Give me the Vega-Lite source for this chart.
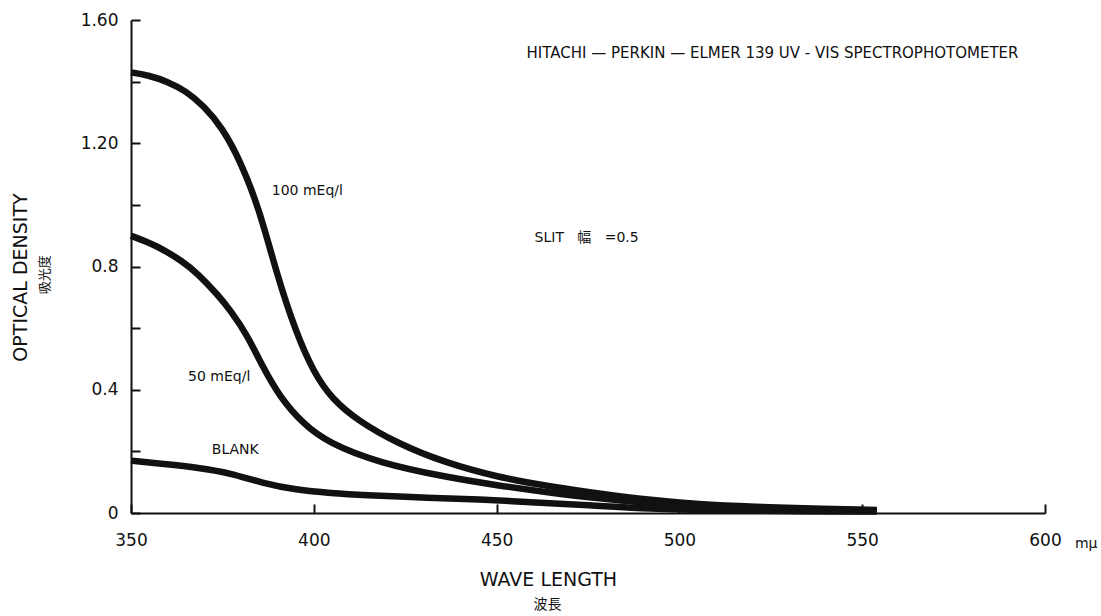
{
  "$schema": "https://vega.github.io/schema/vega-lite/v6.json",
  "width": 914,
  "height": 493,
  "autosize": {"type": "none"},
  "padding": {"left": 131, "top": 20, "right": 56, "bottom": 103},
  "background": "white",
  "config": {
    "view": {"stroke": null},
    "font": "DejaVu Sans",
    "axis": {
      "grid": false,
      "domainColor": "#111",
      "domainWidth": 2,
      "tickColor": "#111",
      "tickWidth": 2,
      "tickSize": -9,
      "labelFlush": false,
      "labelOverlap": false,
      "labelFont": "DejaVu Sans",
      "labelFontSize": 17,
      "labelColor": "#111",
      "titleFont": "DejaVu Sans",
      "titleFontSize": 19,
      "titleFontWeight": "normal",
      "titleColor": "#111"
    }
  },
  "layer": [
    {
      "data": {
        "values": [
          {"series": "100 mEq/l", "wavelength": 350, "od": 1.43},
          {"series": "100 mEq/l", "wavelength": 355, "od": 1.42},
          {"series": "100 mEq/l", "wavelength": 360, "od": 1.4},
          {"series": "100 mEq/l", "wavelength": 365, "od": 1.37},
          {"series": "100 mEq/l", "wavelength": 370, "od": 1.32},
          {"series": "100 mEq/l", "wavelength": 375, "od": 1.25},
          {"series": "100 mEq/l", "wavelength": 380, "od": 1.14},
          {"series": "100 mEq/l", "wavelength": 385, "od": 0.99},
          {"series": "100 mEq/l", "wavelength": 390, "od": 0.77},
          {"series": "100 mEq/l", "wavelength": 395, "od": 0.59},
          {"series": "100 mEq/l", "wavelength": 400, "od": 0.455},
          {"series": "100 mEq/l", "wavelength": 405, "od": 0.37},
          {"series": "100 mEq/l", "wavelength": 412, "od": 0.3},
          {"series": "100 mEq/l", "wavelength": 423, "od": 0.225},
          {"series": "100 mEq/l", "wavelength": 436, "od": 0.163},
          {"series": "100 mEq/l", "wavelength": 450, "od": 0.117},
          {"series": "100 mEq/l", "wavelength": 465, "od": 0.085},
          {"series": "100 mEq/l", "wavelength": 480, "od": 0.06},
          {"series": "100 mEq/l", "wavelength": 492, "od": 0.042},
          {"series": "100 mEq/l", "wavelength": 505, "od": 0.028},
          {"series": "100 mEq/l", "wavelength": 520, "od": 0.02},
          {"series": "100 mEq/l", "wavelength": 540, "od": 0.013},
          {"series": "100 mEq/l", "wavelength": 554, "od": 0.01},
          {"series": "50 mEq/l", "wavelength": 350, "od": 0.9},
          {"series": "50 mEq/l", "wavelength": 355, "od": 0.877},
          {"series": "50 mEq/l", "wavelength": 359, "od": 0.854},
          {"series": "50 mEq/l", "wavelength": 364, "od": 0.817},
          {"series": "50 mEq/l", "wavelength": 368, "od": 0.78},
          {"series": "50 mEq/l", "wavelength": 374, "od": 0.705},
          {"series": "50 mEq/l", "wavelength": 377, "od": 0.66},
          {"series": "50 mEq/l", "wavelength": 381.7, "od": 0.58},
          {"series": "50 mEq/l", "wavelength": 386, "od": 0.475},
          {"series": "50 mEq/l", "wavelength": 390.7, "od": 0.377},
          {"series": "50 mEq/l", "wavelength": 397, "od": 0.29},
          {"series": "50 mEq/l", "wavelength": 404, "od": 0.227},
          {"series": "50 mEq/l", "wavelength": 418, "od": 0.162},
          {"series": "50 mEq/l", "wavelength": 436, "od": 0.117},
          {"series": "50 mEq/l", "wavelength": 450, "od": 0.09},
          {"series": "50 mEq/l", "wavelength": 465, "od": 0.065},
          {"series": "50 mEq/l", "wavelength": 480, "od": 0.045},
          {"series": "50 mEq/l", "wavelength": 492, "od": 0.03},
          {"series": "50 mEq/l", "wavelength": 510, "od": 0.02},
          {"series": "50 mEq/l", "wavelength": 530, "od": 0.013},
          {"series": "50 mEq/l", "wavelength": 554, "od": 0.008},
          {"series": "BLANK", "wavelength": 350, "od": 0.17},
          {"series": "BLANK", "wavelength": 360, "od": 0.158},
          {"series": "BLANK", "wavelength": 369, "od": 0.146},
          {"series": "BLANK", "wavelength": 377, "od": 0.13},
          {"series": "BLANK", "wavelength": 386, "od": 0.097},
          {"series": "BLANK", "wavelength": 395, "od": 0.075},
          {"series": "BLANK", "wavelength": 405, "od": 0.064},
          {"series": "BLANK", "wavelength": 413, "od": 0.058},
          {"series": "BLANK", "wavelength": 432, "od": 0.049},
          {"series": "BLANK", "wavelength": 445, "od": 0.045},
          {"series": "BLANK", "wavelength": 459, "od": 0.035},
          {"series": "BLANK", "wavelength": 475, "od": 0.026},
          {"series": "BLANK", "wavelength": 492, "od": 0.013},
          {"series": "BLANK", "wavelength": 510, "od": 0.008},
          {"series": "BLANK", "wavelength": 530, "od": 0.006},
          {"series": "BLANK", "wavelength": 554, "od": 0.005}
        ]
      },
      "mark": {"type": "line", "interpolate": "basis", "strokeWidth": 6.5, "color": "#111", "strokeCap": "butt", "strokeJoin": "round"},
      "encoding": {
        "x": {
          "field": "wavelength", "type": "quantitative",
          "scale": {"domain": [350, 600], "nice": false, "zero": false},
          "axis": {
            "values": [350, 400, 450, 500, 550, 600],
            "labelPadding": 28,
            "title": "WAVE LENGTH",
            "titleX": 417,
            "titleY": 66,
            "titleBaseline": "middle"
          }
        },
        "y": {
          "field": "od", "type": "quantitative",
          "scale": {"domain": [0, 1.6], "nice": false},
          "axis": {
            "values": [0, 0.2, 0.4, 0.6, 0.8, 1.0, 1.2, 1.4, 1.6],
            "labelExpr": "datum.value == 0 ? '0' : datum.value == 0.4 ? '0.4' : datum.value == 0.8 ? '0.8' : datum.value == 1.2 ? '1.20' : datum.value == 1.6 ? '1.60' : ''",
            "labelPadding": 22,
            "title": "OPTICAL DENSITY",
            "titleX": -111,
            "titleY": 257,
            "titleBaseline": "middle"
          }
        },
        "detail": {"field": "series"}
      }
    },
    {
      "data": {
        "values": [
          {"wavelength": 388.5, "od": 1.045, "text": "100 mEq/l"},
          {"wavelength": 365.6, "od": 0.44, "text": "50 mEq/l"},
          {"wavelength": 372.1, "od": 0.205, "text": "BLANK"},
          {"wavelength": 460.4, "od": 0.893, "text": "SLIT\u00a0\u00a0\u00a0幅\u00a0\u00a0\u00a0=0.5"}
        ]
      },
      "mark": {"type": "text", "align": "left", "baseline": "middle", "color": "#111", "fontSize": 14, "font": "'DejaVu Sans', 'Noto Sans CJK JP'"},
      "encoding": {
        "x": {"field": "wavelength", "type": "quantitative"},
        "y": {"field": "od", "type": "quantitative"},
        "text": {"field": "text"}
      }
    },
    {
      "data": {
        "values": [
          {"wavelength": 458.2, "od": 1.494, "text": "HITACHI — PERKIN — ELMER 139 UV - VIS SPECTROPHOTOMETER"}
        ]
      },
      "mark": {"type": "text", "align": "left", "baseline": "middle", "color": "#111", "fontSize": 15},
      "encoding": {
        "x": {"field": "wavelength", "type": "quantitative"},
        "y": {"field": "od", "type": "quantitative"},
        "text": {"field": "text"}
      }
    },
    {
      "data": {
        "values": [
          {"wavelength": 608.2, "od": -0.1, "text": "mμ"}
        ]
      },
      "mark": {"type": "text", "align": "left", "baseline": "middle", "color": "#111", "fontSize": 14},
      "encoding": {
        "x": {"field": "wavelength", "type": "quantitative"},
        "y": {"field": "od", "type": "quantitative"},
        "text": {"field": "text"}
      }
    },
    {
      "data": {
        "values": [
          {"wavelength": 463.9, "od": -0.3, "text": "波長"}
        ]
      },
      "mark": {"type": "text", "align": "center", "baseline": "middle", "color": "#111", "fontSize": 14, "font": "Noto Sans CJK JP"},
      "encoding": {
        "x": {"field": "wavelength", "type": "quantitative"},
        "y": {"field": "od", "type": "quantitative"},
        "text": {"field": "text"}
      }
    },
    {
      "data": {
        "values": [
          {"wavelength": 326.5, "od": 0.773, "text": "吸光度"}
        ]
      },
      "mark": {"type": "text", "align": "center", "baseline": "middle", "color": "#111", "fontSize": 13, "angle": 270, "font": "Noto Sans CJK JP"},
      "encoding": {
        "x": {"field": "wavelength", "type": "quantitative"},
        "y": {"field": "od", "type": "quantitative"},
        "text": {"field": "text"}
      }
    }
  ]
}
